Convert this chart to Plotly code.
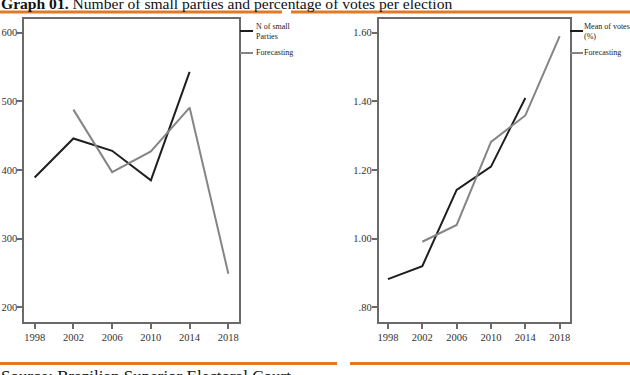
import plotly.graph_objects as go

years = [1998, 2002, 2006, 2010, 2014, 2018]
small_parties = [389, 446, 428, 385, 543, None]
parties_forecast = [None, 488, 397, 427, 491, 249]
mean_votes = [0.882, 0.920, 1.142, 1.210, 1.410, None]
votes_forecast = [None, 0.991, 1.040, 1.282, 1.359, 1.590]

left_yticks = [200, 300, 400, 500, 600]
left_yticklabels = ["200", "300", "400", "500", "600"]
right_yticks = [0.8, 1.0, 1.2, 1.4, 1.6]
right_yticklabels = [".80", "1.00", "1.20", "1.40", "1.60"]

W, H = 630, 375
def px(x): return x / W
def py(y): return 1 - y / H

BLACK = "#1e1e1e"
GRAY = "#858585"
FRAME = "#6a6a6a"
ORANGE = "#e07a26"
TICKFONT = dict(family="Liberation Serif", size=10.5, color="#333333")

fig = go.Figure()
fig.add_trace(go.Scatter(x=years, y=small_parties, mode="lines", line=dict(color=BLACK, width=2),
                         xaxis="x", yaxis="y", connectgaps=False, showlegend=False))
fig.add_trace(go.Scatter(x=years, y=parties_forecast, mode="lines", line=dict(color=GRAY, width=2),
                         xaxis="x", yaxis="y", showlegend=False))
fig.add_trace(go.Scatter(x=years, y=mean_votes, mode="lines", line=dict(color=BLACK, width=2),
                         xaxis="x2", yaxis="y2", showlegend=False))
fig.add_trace(go.Scatter(x=years, y=votes_forecast, mode="lines", line=dict(color=GRAY, width=2),
                         xaxis="x2", yaxis="y2", showlegend=False))

ydom = [py(322), py(19)]
axcommon = dict(showgrid=False, zeroline=False, showline=True, linecolor=FRAME, linewidth=1.5,
                mirror=True, ticks="outside", ticklen=5, tickwidth=1.5, tickcolor=FRAME,
                tickfont=TICKFONT)

fig.update_layout(
    width=W, height=H, margin=dict(l=0, r=0, t=0, b=0),
    paper_bgcolor="white", plot_bgcolor="white",
    xaxis=dict(domain=[px(24), px(239)], range=[1996.9, 2019.1], tickvals=years,
               anchor="y", **axcommon),
    yaxis=dict(domain=ydom, range=[178.6, 620], tickvals=left_yticks, ticktext=left_yticklabels,
               anchor="x", ticklabelstandoff=-2, **axcommon),
    xaxis2=dict(domain=[px(378.5), px(570)], range=[1996.9, 2019.2], tickvals=years,
                anchor="y2", **axcommon),
    yaxis2=dict(domain=ydom, range=[0.7572, 1.64], tickvals=right_yticks, ticktext=right_yticklabels,
                anchor="x2", ticklabelstandoff=-2, **axcommon),
)

shapes = []
# orange rules
for x0, x1, y in [(0, 282, 12), (291, 630, 12), (0, 337, 363.5), (350, 630, 363.5)]:
    shapes.append(dict(type="line", xref="paper", yref="paper", x0=px(x0), x1=px(x1),
                       y0=py(y), y1=py(y), line=dict(color=ORANGE, width=3)))
# legend lines
for lx in [240, 570]:
    shapes.append(dict(type="line", xref="paper", yref="paper", x0=px(lx), x1=px(lx + 13),
                       y0=py(31), y1=py(31), line=dict(color=BLACK, width=2)))
    shapes.append(dict(type="line", xref="paper", yref="paper", x0=px(lx), x1=px(lx + 13),
                       y0=py(53), y1=py(53), line=dict(color=GRAY, width=2)))
fig.update_layout(shapes=shapes)

LEGFONT = dict(family="Liberation Serif", size=8, color="#222222")
anns = [
    dict(text="N of small<br>Parties", x=px(255), y=py(21), xanchor="left", yanchor="top", align="left"),
    dict(text="Forecasting", x=px(255), y=py(53), xanchor="left", yanchor="middle", align="left"),
    dict(text="Mean of votes<br>(%)", x=px(583), y=py(21), xanchor="left", yanchor="top", align="left"),
    dict(text="Forecasting", x=px(583), y=py(53), xanchor="left", yanchor="middle", align="left"),
]
for a in anns:
    fig.add_annotation(xref="paper", yref="paper", showarrow=False, font=LEGFONT, borderpad=0, **a)

fig.add_annotation(xref="paper", yref="paper", x=0, y=py(13), xanchor="left", yanchor="bottom",
                   showarrow=False, borderpad=0,
                   text="<b>Graph 01.</b> Number of small parties and percentage of votes per election",
                   font=dict(family="Liberation Serif", size=15.6, color="#111111"))
fig.add_annotation(xref="paper", yref="paper", x=0, y=py(366), xanchor="left", yanchor="top",
                   showarrow=False, borderpad=0,
                   text="Source: Brazilian Superior Electoral Court",
                   font=dict(family="Liberation Serif", size=17, color="#111111"))

fig.write_html("out.html")
